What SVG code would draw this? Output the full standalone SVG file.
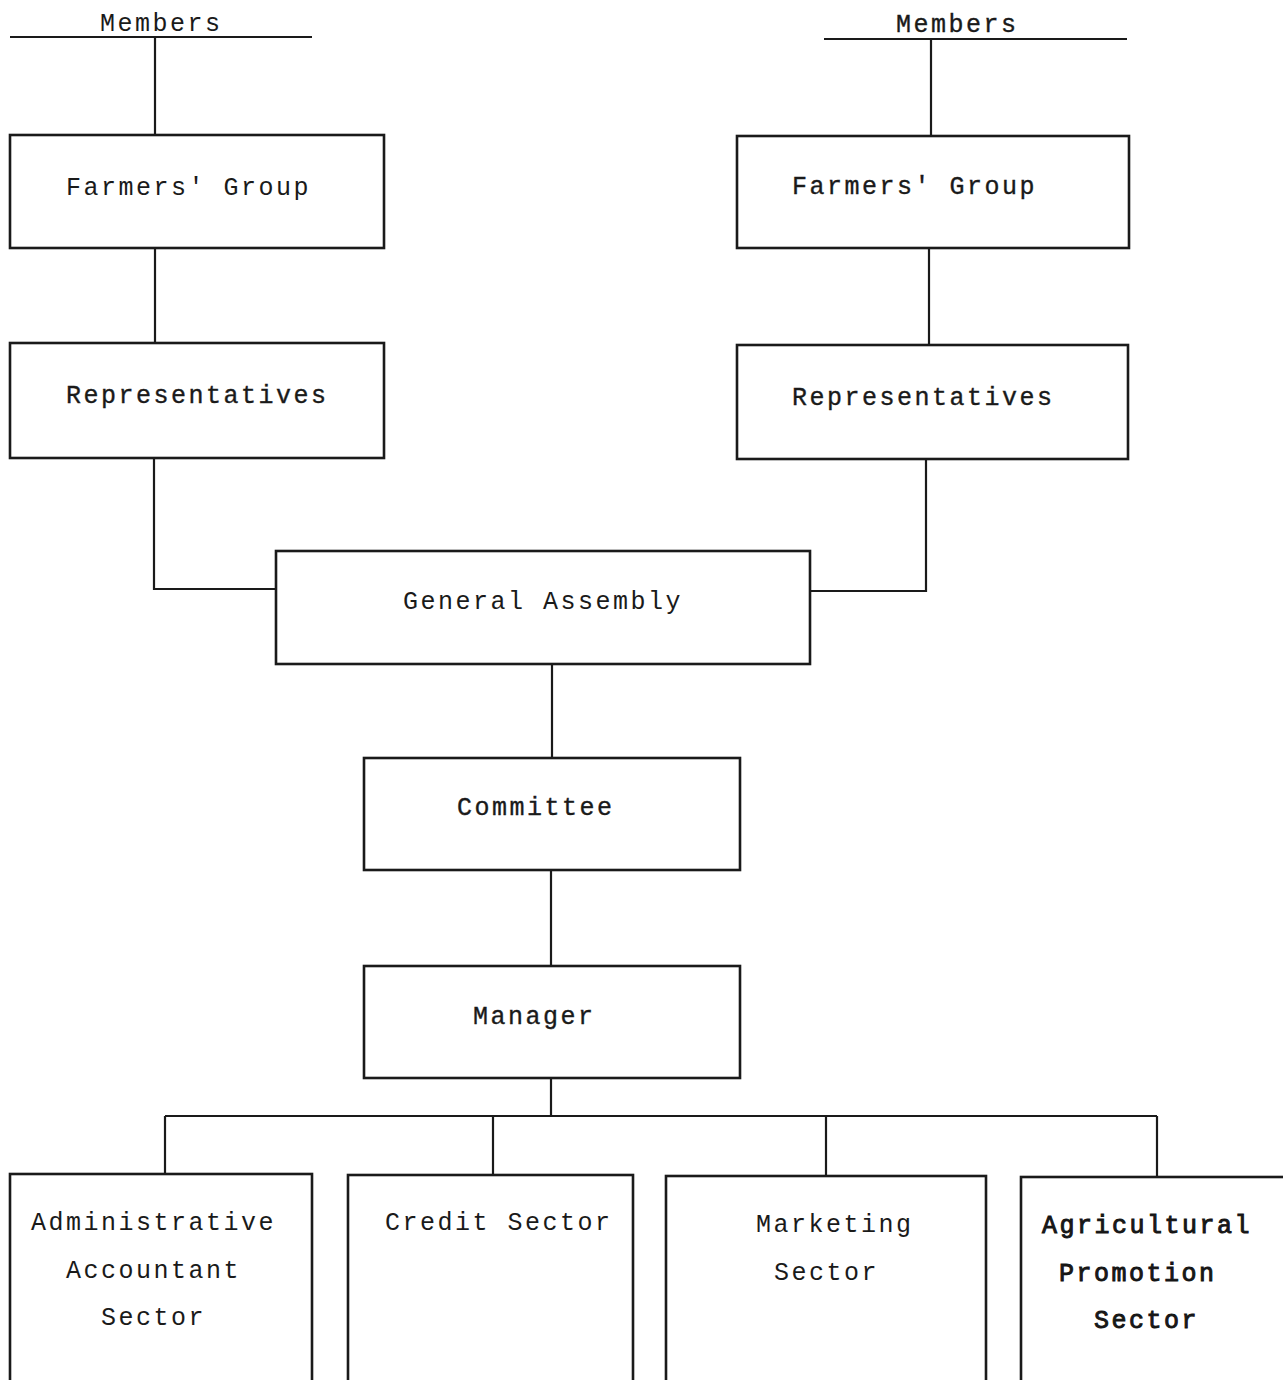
<svg xmlns="http://www.w3.org/2000/svg" width="1283" height="1380" viewBox="0 0 1283 1380">
  <style>
    .box { fill: none; stroke: #1a1a1a; stroke-width: 2.6; }
    .wire { fill: none; stroke: #1a1a1a; stroke-width: 2.2; }
    text { font-family: "Liberation Mono", "Courier New", monospace; font-size: 25px; letter-spacing: 2.5px; fill: #1a1a1a; }
    .heavy { stroke: #1a1a1a; stroke-width: 0.35; }
    .bold { stroke: #111; stroke-width: 0.9; }
  </style>
  <rect width="1283" height="1380" fill="#ffffff"/>

  <!-- connectors -->
  <g id="connectors">
    <path class="wire" d="M10 37 H312"/>
    <path class="wire" d="M155 37 V135"/>
    <path class="wire" d="M824 39 H1127"/>
    <path class="wire" d="M931 39 V136"/>
    <path class="wire" d="M155 248 V343"/>
    <path class="wire" d="M929 248 V345"/>
    <path class="wire" d="M154 458 V589 H276"/>
    <path class="wire" d="M926 459 V591 H810"/>
    <path class="wire" d="M552 664 V758"/>
    <path class="wire" d="M551 870 V966"/>
    <path class="wire" d="M551 1078 V1116"/>
    <path class="wire" d="M165 1116 H1157"/>
    <path class="wire" d="M165 1116 V1174"/>
    <path class="wire" d="M493 1116 V1175"/>
    <path class="wire" d="M826 1116 V1176"/>
    <path class="wire" d="M1157 1116 V1177"/>
  </g>

  <!-- members labels -->
  <g id="members-left"><text x="100" y="31">Members</text></g>
  <g id="members-right"><text x="896" y="32" class="heavy">Members</text></g>

  <g id="farmers-left">
    <rect class="box" x="10" y="135" width="374" height="113"/>
    <text x="66" y="195">Farmers' Group</text>
  </g>
  <g id="farmers-right">
    <rect class="box" x="737" y="136" width="392" height="112"/>
    <text x="792" y="194" class="heavy">Farmers' Group</text>
  </g>

  <g id="reps-left">
    <rect class="box" x="10" y="343" width="374" height="115"/>
    <text x="66" y="403" class="heavy">Representatives</text>
  </g>
  <g id="reps-right">
    <rect class="box" x="737" y="345" width="391" height="114"/>
    <text x="792" y="405" class="heavy">Representatives</text>
  </g>

  <g id="general-assembly">
    <rect class="box" x="276" y="551" width="534" height="113"/>
    <text x="403" y="609">General Assembly</text>
  </g>

  <g id="committee">
    <rect class="box" x="364" y="758" width="376" height="112"/>
    <text x="457" y="815" class="heavy">Committee</text>
  </g>

  <g id="manager">
    <rect class="box" x="364" y="966" width="376" height="112"/>
    <text x="473" y="1024" class="heavy">Manager</text>
  </g>

  <g id="admin-sector">
    <rect class="box" x="10" y="1174" width="302" height="210"/>
    <text x="31" y="1230">Administrative</text>
    <text x="66" y="1278">Accountant</text>
    <text x="101" y="1325">Sector</text>
  </g>

  <g id="credit-sector">
    <rect class="box" x="348" y="1175" width="285" height="209"/>
    <text x="385" y="1230">Credit Sector</text>
  </g>

  <g id="marketing-sector">
    <rect class="box" x="666" y="1176" width="320" height="208"/>
    <text x="756" y="1232">Marketing</text>
    <text x="774" y="1280">Sector</text>
  </g>

  <g id="agri-sector">
    <rect class="box" x="1021" y="1177" width="275" height="207"/>
    <text x="1042" y="1233" class="bold">Agricultural</text>
    <text x="1059" y="1281" class="bold">Promotion</text>
    <text x="1094" y="1328" class="bold">Sector</text>
  </g>
</svg>
